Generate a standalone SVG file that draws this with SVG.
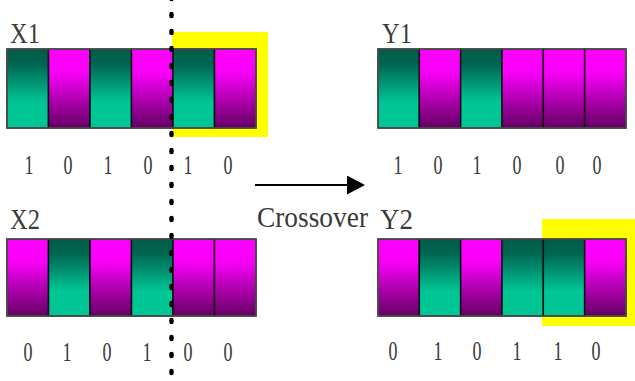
<svg xmlns="http://www.w3.org/2000/svg" width="635" height="381" viewBox="0 0 635 381">
  <defs>
    <linearGradient id="gGreen" x1="0" y1="0" x2="0" y2="1">
      <stop offset="0" stop-color="#005c46"/>
      <stop offset="0.18" stop-color="#006450"/>
      <stop offset="0.68" stop-color="#00c696"/>
      <stop offset="1" stop-color="#00c696"/>
    </linearGradient>
    <linearGradient id="gMagenta" x1="0" y1="0" x2="0" y2="1">
      <stop offset="0" stop-color="#ff00ff"/>
      <stop offset="0.3" stop-color="#f800f8"/>
      <stop offset="1" stop-color="#640064"/>
    </linearGradient>
    <marker id="arrowHead" viewBox="0 0 18 19" refX="0" refY="9.5" markerWidth="18" markerHeight="19" markerUnits="userSpaceOnUse" orient="auto">
      <path d="M0,0 L18,9.5 L0,19 Z" fill="#000"/>
    </marker>
  </defs>
  <style>
    .g { fill: url(#gGreen); stroke: #111; stroke-width: 1.5; }
    .m { fill: url(#gMagenta); stroke: #111; stroke-width: 1.5; }
    .frame { fill: none; stroke: #555; stroke-width: 1.5; }
    .hl { fill: #ffff00; }
    .lbl { font-family: "Liberation Serif", "Times New Roman", serif; font-size: 29px; fill: #3a3a3a; }
    .bit { font-family: "Liberation Serif", "Times New Roman", serif; font-size: 28px; fill: #3a3a3a; text-anchor: middle; }
    .cut { stroke: #000; stroke-width: 4.5; stroke-linecap: round; stroke-dasharray: 2 15; fill: none; }
    .arrow { stroke: #000; stroke-width: 2; fill: none; }
  </style>

  <rect width="635" height="381" fill="#ffffff"/>

  <!-- parent X1: 101010, tail section highlighted -->
  <g id="x1">
    <rect class="hl" x="172" y="32" width="96" height="105"/>
    <text class="lbl" x="10" y="43" textLength="30" lengthAdjust="spacingAndGlyphs">X1</text>
    <rect class="g" x="7" y="49" width="41.5" height="79"/>
    <rect class="m" x="48.5" y="49" width="41.5" height="79"/>
    <rect class="g" x="90" y="49" width="41.5" height="79"/>
    <rect class="m" x="131.5" y="49" width="41.5" height="79"/>
    <rect class="g" x="173" y="49" width="41.5" height="79"/>
    <rect class="m" x="214.5" y="49" width="41.5" height="79"/>
    <rect class="frame" x="7" y="49" width="249" height="79"/>
    <g transform="translate(0,174)">
      <text class="bit" x="29" textLength="9" lengthAdjust="spacingAndGlyphs">1</text>
      <text class="bit" x="68" textLength="9" lengthAdjust="spacingAndGlyphs">0</text>
      <text class="bit" x="108" textLength="9" lengthAdjust="spacingAndGlyphs">1</text>
      <text class="bit" x="148" textLength="9" lengthAdjust="spacingAndGlyphs">0</text>
      <text class="bit" x="188" textLength="9" lengthAdjust="spacingAndGlyphs">1</text>
      <text class="bit" x="228" textLength="9" lengthAdjust="spacingAndGlyphs">0</text>
    </g>
  </g>

  <!-- parent X2: 010100 -->
  <g id="x2">
    <text class="lbl" x="10" y="229" textLength="30" lengthAdjust="spacingAndGlyphs">X2</text>
    <rect class="m" x="7" y="239" width="41.5" height="77"/>
    <rect class="g" x="48.5" y="239" width="41.5" height="77"/>
    <rect class="m" x="90" y="239" width="41.5" height="77"/>
    <rect class="g" x="131.5" y="239" width="41.5" height="77"/>
    <rect class="m" x="173" y="239" width="41.5" height="77"/>
    <rect class="m" x="214.5" y="239" width="41.5" height="77"/>
    <rect class="frame" x="7" y="239" width="249" height="77"/>
    <g transform="translate(0,361)">
      <text class="bit" x="28" textLength="9" lengthAdjust="spacingAndGlyphs">0</text>
      <text class="bit" x="67" textLength="9" lengthAdjust="spacingAndGlyphs">1</text>
      <text class="bit" x="107" textLength="9" lengthAdjust="spacingAndGlyphs">0</text>
      <text class="bit" x="147" textLength="9" lengthAdjust="spacingAndGlyphs">1</text>
      <text class="bit" x="188" textLength="9" lengthAdjust="spacingAndGlyphs">0</text>
      <text class="bit" x="228" textLength="9" lengthAdjust="spacingAndGlyphs">0</text>
    </g>
  </g>

  <!-- offspring Y1: 101000 -->
  <g id="y1">
    <text class="lbl" x="382" y="43" textLength="30" lengthAdjust="spacingAndGlyphs">Y1</text>
    <rect class="g" x="378" y="49" width="41.33" height="79"/>
    <rect class="m" x="419.33" y="49" width="41.33" height="79"/>
    <rect class="g" x="460.67" y="49" width="41.33" height="79"/>
    <rect class="m" x="502" y="49" width="41.33" height="79"/>
    <rect class="m" x="543.33" y="49" width="41.33" height="79"/>
    <rect class="m" x="584.67" y="49" width="41.33" height="79"/>
    <rect class="frame" x="378" y="49" width="248" height="79"/>
    <g transform="translate(0,174)">
      <text class="bit" x="398" textLength="9" lengthAdjust="spacingAndGlyphs">1</text>
      <text class="bit" x="438" textLength="9" lengthAdjust="spacingAndGlyphs">0</text>
      <text class="bit" x="477" textLength="9" lengthAdjust="spacingAndGlyphs">1</text>
      <text class="bit" x="517" textLength="9" lengthAdjust="spacingAndGlyphs">0</text>
      <text class="bit" x="560" textLength="9" lengthAdjust="spacingAndGlyphs">0</text>
      <text class="bit" x="597" textLength="9" lengthAdjust="spacingAndGlyphs">0</text>
    </g>
  </g>

  <!-- offspring Y2: 010110, swapped tail highlighted -->
  <g id="y2">
    <rect class="hl" x="542" y="219" width="93" height="107"/>
    <text class="lbl" x="380" y="229" textLength="33" lengthAdjust="spacingAndGlyphs">Y2</text>
    <rect class="m" x="378" y="239" width="41.33" height="77"/>
    <rect class="g" x="419.33" y="239" width="41.33" height="77"/>
    <rect class="m" x="460.67" y="239" width="41.33" height="77"/>
    <rect class="g" x="502" y="239" width="41.33" height="77"/>
    <rect class="g" x="543.33" y="239" width="41.33" height="77"/>
    <rect class="m" x="584.67" y="239" width="41.33" height="77"/>
    <rect class="frame" x="378" y="239" width="248" height="77"/>
    <g transform="translate(0,360)">
      <text class="bit" x="393" textLength="9" lengthAdjust="spacingAndGlyphs">0</text>
      <text class="bit" x="438" textLength="9" lengthAdjust="spacingAndGlyphs">1</text>
      <text class="bit" x="477" textLength="9" lengthAdjust="spacingAndGlyphs">0</text>
      <text class="bit" x="517" textLength="9" lengthAdjust="spacingAndGlyphs">1</text>
      <text class="bit" x="558" textLength="9" lengthAdjust="spacingAndGlyphs">1</text>
      <text class="bit" x="596" textLength="9" lengthAdjust="spacingAndGlyphs">0</text>
    </g>
  </g>

  <!-- crossover cut point -->
  <line id="cut-point" class="cut" x1="171.5" y1="-3" x2="171.5" y2="381"/>

  <!-- connectors -->
  <g id="connectors">
    <line class="arrow" x1="255" y1="185" x2="347" y2="185" marker-end="url(#arrowHead)"/>
    <text class="lbl" x="257" y="227" textLength="111" lengthAdjust="spacingAndGlyphs">Crossover</text>
  </g>
</svg>
